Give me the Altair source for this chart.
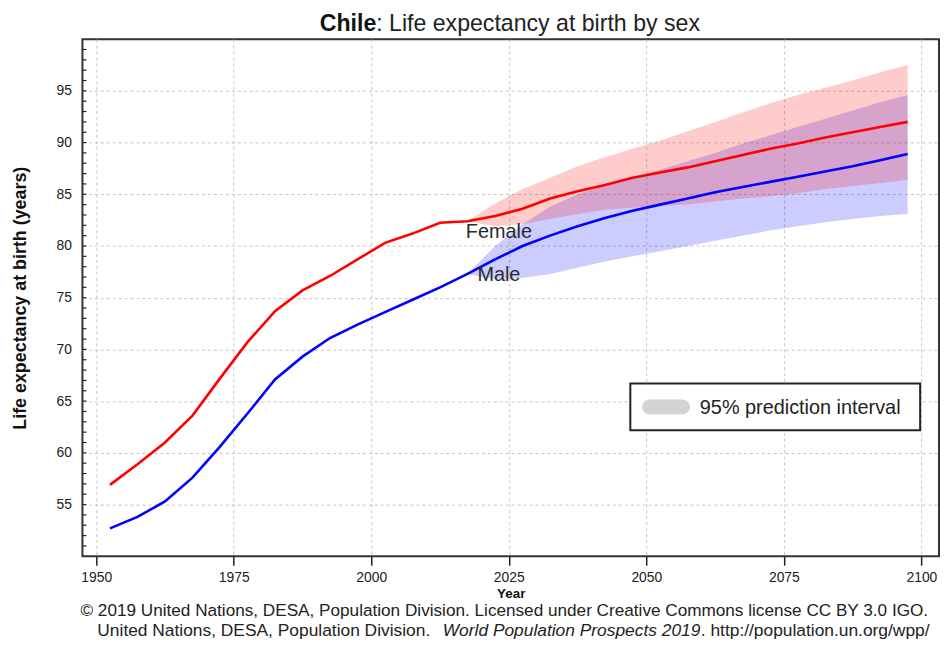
import altair as alt
import pandas as pd

FONT = "Liberation Sans"

# ---- data ----
years = [1952.5, 1957.5, 1962.5, 1967.5, 1972.5, 1977.5, 1982.5, 1987.5, 1992.5, 1997.5,
         2002.5, 2007.5, 2012.5, 2017.5, 2022.5, 2027.5, 2032.5, 2037.5, 2042.5, 2047.5,
         2052.5, 2057.5, 2062.5, 2067.5, 2072.5, 2077.5, 2082.5, 2087.5, 2092.5, 2097.5]
female = [56.9, 58.9, 61.0, 63.6, 67.2, 70.7, 73.7, 75.7, 77.1, 78.7,
          80.3, 81.2, 82.25, 82.4, 82.9, 83.6, 84.6, 85.3, 85.9, 86.6,
          87.1, 87.6, 88.2, 88.8, 89.4, 89.9, 90.5, 91.0, 91.5, 92.0]
male = [52.7, 53.8, 55.3, 57.6, 60.6, 63.8, 67.1, 69.3, 71.1, 72.4,
        73.6, 74.8, 76.0, 77.3, 78.7, 80.0, 81.0, 81.9, 82.7, 83.4,
        84.0, 84.6, 85.2, 85.7, 86.2, 86.7, 87.2, 87.7, 88.3, 88.9]

proj_years = [2017.5, 2022.5, 2027.5, 2032.5, 2037.5, 2042.5, 2047.5, 2052.5, 2057.5,
              2062.5, 2067.5, 2072.5, 2077.5, 2082.5, 2087.5, 2092.5, 2097.5]
female_lo = [82.4, 81.9, 82.1, 82.6, 83.1, 83.5, 83.7, 83.9, 84.0,
             84.3, 84.6, 84.8, 85.1, 85.5, 85.8, 86.1, 86.4]
female_hi = [82.4, 84.1, 85.5, 86.6, 87.7, 88.6, 89.4, 90.2, 91.1,
             92.0, 92.9, 93.8, 94.6, 95.3, 96.0, 96.8, 97.5]
male_lo = [77.3, 76.8, 76.9, 77.3, 77.9, 78.5, 79.0, 79.5, 80.0,
           80.5, 81.0, 81.5, 81.9, 82.3, 82.6, 82.9, 83.1]
male_hi = [77.3, 80.0, 82.1, 83.8, 85.0, 85.9, 86.6, 87.4, 88.2,
           89.0, 89.9, 90.7, 91.5, 92.3, 93.1, 93.9, 94.6]

x_ticks = [1950, 1975, 2000, 2025, 2050, 2075, 2100]
y_ticks = [55, 60, 65, 70, 75, 80, 85, 90, 95]
y_minor = list(range(51, 100))

sex_names = ["Female", "Male"]
label_years = [2023.2, 2023.2]
label_values = [80.8, 76.6]

title_bold = "Chile"
title_rest = ": Life expectancy at birth by sex"
legend_label = "95% prediction interval"
foot1 = "\u00a9 2019 United Nations, DESA, Population Division. Licensed under Creative Commons license CC BY 3.0 IGO."
foot2a = "United Nations, DESA, Population Division."
foot2b = "World Population Prospects 2019"
foot2c = ". http://population.un.org/wpp/"

# ---- tables ----
lines_df = pd.DataFrame({
    "year": years * 2,
    "value": female + male,
    "sex": ["Female"] * len(years) + ["Male"] * len(years),
})
fband = pd.DataFrame({"year": proj_years, "lo": female_lo, "hi": female_hi})
mband = pd.DataFrame({"year": proj_years, "lo": male_lo, "hi": male_hi})
minor_df = pd.DataFrame({"value": y_minor})
labels_df = pd.DataFrame({"year": label_years, "value": label_values, "sex": sex_names})

W, H = 863, 521
xscale = alt.Scale(domain=[1947.5, 2103.2], nice=False, zero=False)
yscale = alt.Scale(domain=[50, 100], nice=False, zero=False)

GRID = dict(grid=True, gridDash=[3, 3], gridColor="#c6c6c6", gridWidth=1)
xaxis = alt.Axis(values=x_ticks, format="d", title="Year", domain=False,
                 ticks=True, tickSize=9, tickColor="#222", tickWidth=1.5,
                 labelFontSize=14, labelPadding=5, labelColor="#222", labelFont=FONT,
                 titleFontSize=13.5, titleFontWeight="bold", titleColor="#111", titleFont=FONT,
                 titleY=38, titleBaseline="middle", **GRID)
yaxis = alt.Axis(values=y_ticks, title="Life expectancy at birth (years)", domain=False,
                 ticks=False, labelPadding=11, labelFontSize=14, labelColor="#222", labelFont=FONT,
                 titleFontSize=18, titleFontWeight="bold", titleColor="#111", titleFont=FONT,
                 titleX=-62, titleY=H / 2, titleAngle=270, titleAlign="center",
                 titleBaseline="middle", **GRID)

X = lambda f: alt.X(f, type="quantitative", scale=xscale, axis=xaxis, title="Year")
Y = lambda f: alt.Y(f, type="quantitative", scale=yscale, axis=yaxis,
                    title="Life expectancy at birth (years)")

male_band = alt.Chart(mband).mark_area(color="#0000ff", opacity=0.2).encode(
    x=X("year"), y=Y("lo"), y2="hi")
female_band = alt.Chart(fband).mark_area(color="#ff0000", opacity=0.2).encode(
    x=X("year"), y=Y("lo"), y2="hi")

lines = alt.Chart(lines_df).mark_line(strokeWidth=2.6).encode(
    x=X("year"), y=Y("value"),
    color=alt.Color("sex:N", scale=alt.Scale(domain=["Female", "Male"],
                                             range=["#ff0000", "#0000ff"]), legend=None))

minor = alt.Chart(minor_df).mark_rule(color="#222", strokeWidth=1.2).encode(
    y=Y("value"), x=alt.value(0), x2=alt.value(4))

sex_text = alt.Chart(labels_df).mark_text(
    fontSize=20, font=FONT, color="#2a2a2a", align="center", baseline="alphabetic").encode(
    x=X("year"), y=Y("value"), text="sex:N")

one = lambda t: pd.DataFrame({"t": [t]})

legend_box = alt.Chart(one(legend_label)).mark_rect(
    fill="white", stroke="#222", strokeWidth=2).encode(
    x=alt.value(552), x2=alt.value(844), y=alt.value(347), y2=alt.value(394))
legend_swatch = alt.Chart(one(legend_label)).mark_rect(
    fill="#d3d3d3", cornerRadius=7.5).encode(
    x=alt.value(564), x2=alt.value(612), y=alt.value(363), y2=alt.value(378))
legend_text = alt.Chart(one(legend_label)).mark_text(
    fontSize=20, font=FONT, color="#222", align="left", baseline="alphabetic").encode(
    x=alt.value(622), y=alt.value(378), text="t:N")

t_bold = alt.Chart(one(title_bold)).mark_text(
    fontSize=23.3, font=FONT, fontWeight="bold", color="#111", align="right",
    baseline="alphabetic").encode(x=alt.value(296), y=alt.value(-8.5), text="t:N")
t_rest = alt.Chart(one(title_rest)).mark_text(
    fontSize=23.3, font=FONT, color="#222", align="left",
    baseline="alphabetic").encode(x=alt.value(296), y=alt.value(-8.5), text="t:N")

f1 = alt.Chart(one(foot1)).mark_text(
    fontSize=17.3, font=FONT, color="#222", align="center", baseline="alphabetic").encode(
    x=alt.value(425), y=alt.value(581), text="t:N")
f2a = alt.Chart(one(foot2a)).mark_text(
    fontSize=17.5, font=FONT, color="#222", align="left", baseline="alphabetic").encode(
    x=alt.value(15), y=alt.value(601.5), text="t:N")
f2b = alt.Chart(one(foot2b)).mark_text(
    fontSize=17.5, font=FONT, fontStyle="italic", color="#222", align="left",
    baseline="alphabetic").encode(x=alt.value(363), y=alt.value(601.5), text="t:N")
f2c = alt.Chart(one(foot2c)).mark_text(
    fontSize=17.5, font=FONT, color="#222", align="left", baseline="alphabetic").encode(
    x=alt.value(623), y=alt.value(601.5), text="t:N")

chart = alt.layer(
    male_band, female_band, lines, minor, sex_text,
    legend_box, legend_swatch, legend_text,
    t_bold, t_rest, f1, f2a, f2b, f2c,
).properties(
    width=W, height=H,
    padding={"left": 75, "top": 29, "right": 1, "bottom": 84},
    autosize=alt.AutoSizeParams(type="none"),
).configure(font=FONT).configure_view(stroke="#333", strokeWidth=2)

chart.save("out.html", embed_options={"renderer": "svg", "actions": False})
